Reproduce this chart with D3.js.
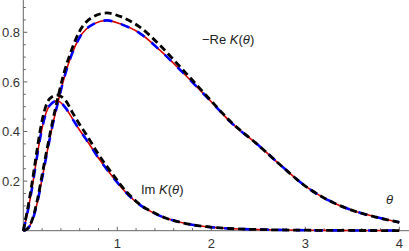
<!DOCTYPE html>
<html><head><meta charset="utf-8">
<script src="https://cdn.jsdelivr.net/npm/d3@7"></script>
<style>
html,body{margin:0;padding:0;background:#fff;}
svg{display:block;font-family:"Liberation Sans",Arial,sans-serif;}
</style></head>
<body>
<svg id="c" width="409" height="251"></svg>
<script>
// ---- data ----
const reTheta  = [0, 0.05, 0.1, 0.15, 0.2, 0.25, 0.3, 0.37, 0.43, 0.5, 0.6, 0.75, 0.89, 1.03, 1.24, 1.45, 1.67, 1.88, 2.0, 2.2, 2.5, 2.75, 3.0, 3.25, 3.5, 3.75, 4.0];
const reSolid  = [0, 0.01, 0.045, 0.115, 0.21, 0.31, 0.405, 0.52, 0.61, 0.695, 0.78, 0.834, 0.848, 0.834, 0.796, 0.729, 0.648, 0.567, 0.52, 0.44, 0.345, 0.26, 0.18, 0.122, 0.082, 0.055, 0.034];
const reDashed = [0, 0.01, 0.05, 0.125, 0.225, 0.325, 0.42, 0.54, 0.632, 0.715, 0.805, 0.864, 0.878, 0.864, 0.821, 0.749, 0.66, 0.573, 0.523, 0.442, 0.345, 0.26, 0.18, 0.122, 0.082, 0.055, 0.034];

const imTheta  = [0, 0.04, 0.09, 0.14, 0.18, 0.23, 0.28, 0.36, 0.45, 0.53, 0.6, 0.68, 0.8, 0.95, 1.1, 1.24, 1.38, 1.52, 1.67, 1.81, 1.95, 2.1, 2.3, 2.6, 3.0, 3.5, 4.0];
const imSolid  = [0, 0.065, 0.165, 0.285, 0.375, 0.46, 0.505, 0.524, 0.495, 0.447, 0.405, 0.362, 0.293, 0.218, 0.151, 0.104, 0.073, 0.05, 0.034, 0.023, 0.016, 0.011, 0.007, 0.004, 0.002, 0.001, 0.0005];
const imDashed = [0, 0.075, 0.185, 0.31, 0.405, 0.49, 0.532, 0.547, 0.525, 0.472, 0.428, 0.382, 0.308, 0.228, 0.156, 0.106, 0.074, 0.05, 0.034, 0.023, 0.016, 0.011, 0.007, 0.004, 0.002, 0.001, 0.0005];

const xMajor = [1, 2, 3, 4];
const xLabels = ["1", "2", "3", "4"];
const yMajor = [0.2, 0.4, 0.6, 0.8];
const yLabels = ["0.2", "0.4", "0.6", "0.8"];

// ---- layout ----
const svg = d3.select("#c");
const x = d3.scaleLinear().domain([0, 4]).range([23.3, 399.3]);
const y = d3.scaleLinear().domain([0, 0.8]).range([230.7, 32.3]);
const axisColor = "#666";

const xMinor = d3.range(1, 21).map(i => i * 0.2).filter(v => xMajor.every(m => Math.abs(m - v) > 1e-6));
const yMinor = d3.range(1, 19).map(i => i * 0.05).filter(v => yMajor.every(m => Math.abs(m - v) > 1e-6) && y(v) >= 0);

// axes lines
svg.append("line").attr("x1", x(0)).attr("x2", 409).attr("y1", y(0)).attr("y2", y(0))
  .attr("stroke", axisColor).attr("stroke-width", 1);
svg.append("line").attr("x1", x(0)).attr("x2", x(0)).attr("y1", 0).attr("y2", y(0))
  .attr("stroke", axisColor).attr("stroke-width", 1);

// x ticks
svg.selectAll(".xmaj").data(xMajor).join("line")
  .attr("x1", d => x(d)).attr("x2", d => x(d)).attr("y1", y(0)).attr("y2", y(0) - 4)
  .attr("stroke", axisColor);
svg.selectAll(".xmin").data(xMinor).join("line")
  .attr("x1", d => x(d)).attr("x2", d => x(d)).attr("y1", y(0)).attr("y2", y(0) - 2.5)
  .attr("stroke", axisColor);
svg.selectAll(".xlab").data(xMajor).join("text")
  .attr("x", d => x(d)).attr("y", 248).attr("text-anchor", "middle")
  .attr("font-size", 13).attr("fill", "#333").text((d, i) => xLabels[i]);

// y ticks
svg.selectAll(".ymaj").data(yMajor).join("line")
  .attr("x1", x(0)).attr("x2", x(0) + 4).attr("y1", d => y(d)).attr("y2", d => y(d))
  .attr("stroke", axisColor);
svg.selectAll(".ymin").data(yMinor).join("line")
  .attr("x1", x(0)).attr("x2", x(0) + 2.5).attr("y1", d => y(d)).attr("y2", d => y(d))
  .attr("stroke", axisColor);
svg.selectAll(".ylab").data(yMajor).join("text")
  .attr("x", 20).attr("y", d => y(d) + 4.7).attr("text-anchor", "end")
  .attr("font-size", 13).attr("fill", "#333").text((d, i) => yLabels[i]);

// curves
const line = d3.line().x(d => x(d[0])).y(d => y(d[1])).curve(d3.curveMonotoneX);
function draw(th, vals, stroke, width, dash) {
  const p = svg.append("path").datum(th.map((t, i) => [t, vals[i]]))
    .attr("d", line).attr("fill", "none").attr("stroke", stroke)
    .attr("stroke-width", width).attr("stroke-linejoin", "round");
  if (dash) p.attr("stroke-dasharray", dash);
}
draw(reTheta, reSolid, "#d40000", 1.6, null);
draw(imTheta, imSolid, "#d40000", 1.6, null);
draw(reTheta, reSolid, "#0000ff", 2.6, "9,9");
draw(imTheta, imSolid, "#0000ff", 2.6, "9,9");
draw(reTheta, reDashed, "#000", 2.8, "7,4");
draw(imTheta, imDashed, "#000", 2.8, "7,4");

// labels
const t1 = svg.append("text").attr("x", 202).attr("y", 44).attr("font-size", 13).attr("fill", "#222");
t1.append("tspan").text("\u2212Re ");
t1.append("tspan").attr("font-style", "italic").text("K");
t1.append("tspan").text("(");
t1.append("tspan").attr("font-style", "italic").text("\u03b8");
t1.append("tspan").text(")");

const t2 = svg.append("text").attr("x", 141).attr("y", 194).attr("font-size", 13).attr("fill", "#222");
t2.append("tspan").text("Im ");
t2.append("tspan").attr("font-style", "italic").text("K");
t2.append("tspan").text("(");
t2.append("tspan").attr("font-style", "italic").text("\u03b8");
t2.append("tspan").text(")");

svg.append("text").attr("x", 386).attr("y", 204).attr("font-size", 13)
  .attr("font-style", "italic").attr("fill", "#222").text("\u03b8");
</script>
</body></html>
